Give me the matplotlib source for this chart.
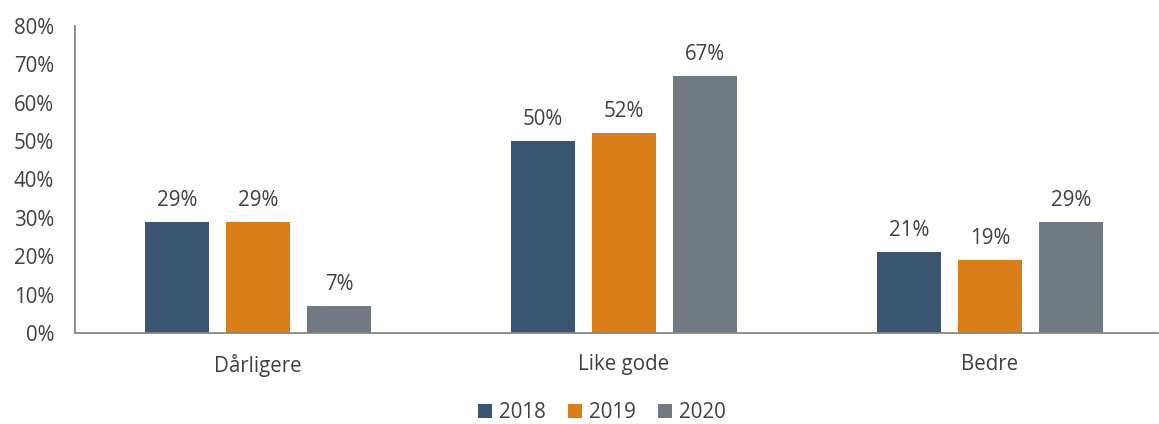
import matplotlib
matplotlib.use("Agg")
import matplotlib.pyplot as plt
import numpy as np

categories = ["Dårligere", "Like gode", "Bedre"]
years = ["2018", "2019", "2020"]
v2018 = [29, 50, 21]
v2019 = [29, 52, 19]
v2020 = [7, 67, 29]
colors = ["#3A5572", "#D97E17", "#717A82"]

plt.rcParams['font.family'] = ['Open Sans', 'DejaVu Sans']
textc = "#404040"
fs = 14.8

W, H = 1159, 424
fig = plt.figure(figsize=(W/100, H/100), dpi=100)
left, right, top, bottom = 75, 1158, 26, 333
ax = fig.add_axes([left/W, (H-bottom)/H, (right-left)/W, (bottom-top)/H])

slot = 366.0
x = np.arange(len(categories))
bw = 64/slot
step = 81/slot
for i, (vals, yr) in enumerate(zip([v2018, v2019, v2020], years)):
    pos = x + (i-1)*step
    ax.bar(pos, vals, width=bw, color=colors[i], label=yr, zorder=2)
    for p, v in zip(pos, vals):
        ax.annotate(f"{v}%", (p, v), xytext=(0, 8), textcoords="offset points",
                    ha="center", va="bottom", fontsize=fs, color=textc)

ax.set_xlim(-0.5, -0.5 + (right-left)/slot)
ax.set_ylim(0, 80)
ax.set_yticks(range(0, 81, 10))
ax.set_yticklabels([f"{t}%" for t in range(0, 81, 10)], fontsize=fs, color=textc)
ax.set_xticks(x)
ax.set_xticklabels(categories, fontsize=fs, color=textc)
ax.tick_params(axis='both', length=0)
ax.tick_params(axis='x', pad=15)
ax.tick_params(axis='y', pad=15)
for s in ["top", "right"]:
    ax.spines[s].set_visible(False)
for s in ["left", "bottom"]:
    ax.spines[s].set_color("#898580")
    ax.spines[s].set_linewidth(1.3)

leg = fig.legend(loc="center", bbox_to_anchor=(602/W, (H-413)/H), ncol=3, frameon=False,
                 fontsize=fs, handlelength=0.65, handleheight=0.65, handletextpad=0.35,
                 columnspacing=1.1)
for t in leg.get_texts():
    t.set_color(textc)

fig.savefig("out.png", dpi=100)
